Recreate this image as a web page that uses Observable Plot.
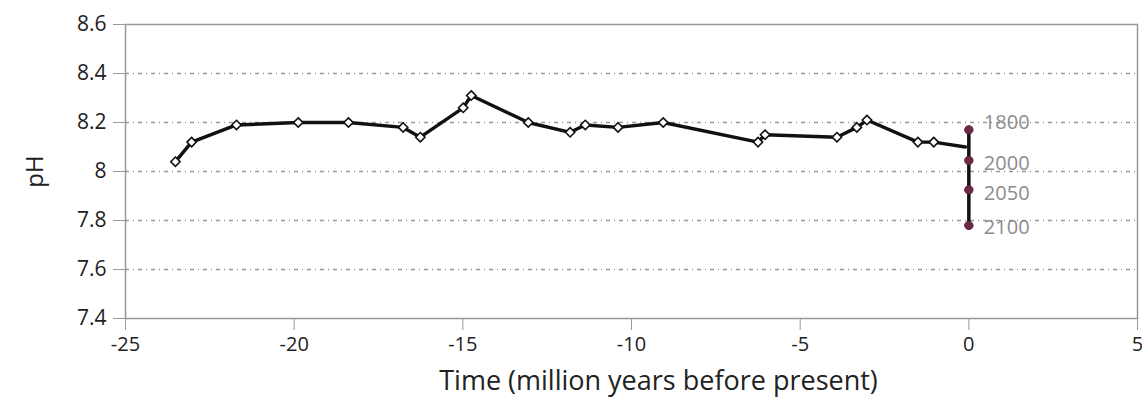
<!DOCTYPE html>
<html>
<head>
<meta charset="utf-8">
<script src="https://cdn.jsdelivr.net/npm/d3@7"></script>
<script src="https://cdn.jsdelivr.net/npm/@observablehq/plot@0.6"></script>
<style>
  html, body { margin: 0; padding: 0; background: #fff; }
  svg { display: block; }
</style>
</head>
<body>
<div id="chart"></div>
<script>
// Past pH reconstruction (million years before present)
const timeMyr = [-23.52, -23.04, -21.71, -19.88, -18.39, -16.77, -16.26, -14.99, -14.75, -13.06, -11.82, -11.37, -10.40, -9.06, -6.25, -6.04, -3.91, -3.32, -3.02, -1.51, -1.04];
const pH      = [8.04, 8.12, 8.19, 8.20, 8.20, 8.18, 8.14, 8.26, 8.31, 8.20, 8.16, 8.19, 8.18, 8.20, 8.12, 8.15, 8.14, 8.18, 8.21, 8.12, 8.12];
// where the reconstruction line meets the present-day bar
const lineEndTime = -0.1;
const lineEndPH = 8.10;

// Present-day / projected values
const years     = ["1800", "2000", "2050", "2100"];
const yearTime  = [0, 0, 0, 0];
const yearPH    = [8.17, 8.045, 7.925, 7.78];

// Axis ticks
const xTicks = [-25, -20, -15, -10, -5, 0, 5];
const yTicks = [7.4, 7.6, 7.8, 8.0, 8.2, 8.4, 8.6];
const gridTicks = [7.6, 7.8, 8.0, 8.2, 8.4];
const xTitle = "Time (million years before present)";
const yTitle = "pH";

const past = timeMyr.map((t, i) => ({t, ph: pH[i]}));
const pastLine = past.concat([{t: lineEndTime, ph: lineEndPH}]);
const proj = years.map((y, i) => ({year: y, t: yearTime[i], ph: yearPH[i]}));
const labelDy = [-7, 3, 4, 2];

const font = "'Open Sans', sans-serif";

const chart = Plot.plot({
  width: 1142,
  height: 417,
  marginLeft: 125,
  marginRight: 5,
  marginTop: 24,
  marginBottom: 99,
  style: {fontFamily: font, background: "#fff"},
  x: {domain: [-25, 5]},
  y: {domain: [7.4, 8.6]},
  marks: [
    Plot.ruleY(gridTicks, {stroke: "#999", strokeWidth: 1.3, strokeDasharray: "4,4,1,4"}),
    Plot.frame({stroke: "#999", strokeWidth: 1.5}),
    Plot.axisY({ticks: yTicks, tickSize: 12, tickFormat: d => String(+d.toFixed(1)), fontSize: 21, tickPadding: 7, stroke: "#999", fill: "#222", label: null}),
    Plot.axisX({ticks: xTicks, tickSize: 12, tickFormat: d => String(d), fontSize: 20, tickPadding: 6, stroke: "#999", fill: "#222", label: null}),
    Plot.text([yTitle], {frameAnchor: "left", textAnchor: "middle", dx: -90, rotate: -90, fontSize: 24, fill: "#222"}),
    Plot.text([xTitle], {frameAnchor: "bottom", dy: 71, dx: 27, fontSize: 27, fill: "#222", style: "letter-spacing:1.4px"}),
    Plot.line(pastLine, {x: "t", y: "ph", stroke: "#111", strokeWidth: 3.4}),
    Plot.dot(past, {x: "t", y: "ph", symbol: "diamond2", r: 4.2, fill: "#fff", stroke: "#111", strokeWidth: 1.6}),
    Plot.line(proj, {x: "t", y: "ph", stroke: "#111", strokeWidth: 3.5}),
    Plot.dot(proj, {x: "t", y: "ph", symbol: "circle", r: 4.2, fill: "#6e2848", stroke: "#5a1f3a", strokeWidth: 1}),
    ...proj.map((d, i) => Plot.text([d], {x: "t", y: "ph", text: "year", textAnchor: "start", dx: 15, dy: labelDy[i], fontSize: 20, fill: "#8c8c8c", style: "letter-spacing:1.6px"}))
  ]
});
document.getElementById("chart").appendChild(chart);
</script>
</body>
</html>
